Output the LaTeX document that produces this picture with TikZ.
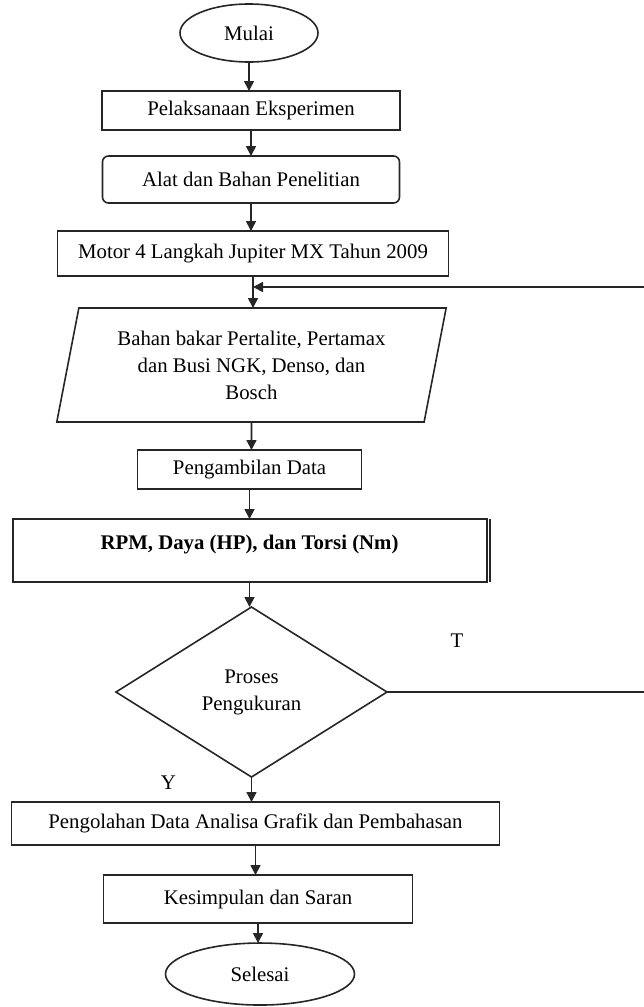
\documentclass[tikz,border=0pt]{standalone}
\usepackage{fontspec}
\setmainfont{Liberation Serif}
\usepackage{tikz}
\usetikzlibrary{shapes.geometric, arrows.meta, positioning, calc}

\begin{document}
\begin{tikzpicture}[
  font=\fontsize{10.4}{13.5}\selectfont,
  node distance=14pt and 10pt,
  box/.style={rectangle, draw=black!85, line width=0.8pt, align=center,
              inner sep=2pt, outer sep=0pt},
  term/.style={ellipse, draw=black!85, line width=0.8pt, inner sep=0pt,
               outer sep=0pt},
  io/.style={trapezium, trapezium left angle=76, trapezium right angle=104,
             trapezium stretches=true, draw=black!85, line width=0.8pt,
             align=center, inner sep=0pt, outer sep=0pt},
  decide/.style={diamond, draw=black!85, line width=0.8pt, align=center,
                 inner sep=0pt, outer sep=0pt},
  lbl/.style={inner sep=0pt},
  arrow/.style={-{Triangle[length=5pt, width=5pt]}, black!85, line width=0.8pt}
]
\useasboundingbox (0,0) rectangle (321.5pt,-503.5pt);

% Start
\node[term, minimum width=69pt, minimum height=29pt] (mulai) at (124.5pt,-16.5pt) {Mulai};

% Preparation
\node[box, minimum width=149pt, minimum height=19.5pt,
      below=14.5pt of mulai, xshift=1pt] (pelaksanaan) {Pelaksanaan Eksperimen};
\node[box, rounded corners=3pt, minimum width=148.5pt, minimum height=23.5pt,
      below=13pt of pelaksanaan] (alat) {Alat dan Bahan Penelitian};
\node[box, minimum width=195.5pt, minimum height=22.5pt,
      below=14pt of alat, xshift=1pt] (motor) {Motor 4 Langkah Jupiter MX Tahun 2009};

% Input
\node[io, minimum width=195pt, minimum height=57pt,
      below=16pt of motor, xshift=-0.75pt] (bahan)
      {Bahan bakar Pertalite, Pertamax\\dan Busi NGK, Denso, dan\\Bosch};

% Data
\node[box, minimum width=112pt, minimum height=19.5pt,
      below=14pt of bahan, xshift=-1pt] (ambil) {Pengambilan Data};
\node[box, line width=1pt, minimum width=237pt, minimum height=31.5pt, text depth=8pt,
      below=15pt of ambil] (rpm) {\textbf{RPM, Daya (HP), dan Torsi (Nm)}};
\draw[line width=0.8pt, black!85] ([xshift=1.6pt]rpm.north east) -- ([xshift=1.6pt]rpm.south east);

% Decision
\node[decide, minimum width=135.5pt, minimum height=85pt,
      below=12.5pt of rpm, xshift=1pt] (ukur) {Proses\\Pengukuran};
\node[lbl] (tlab) at ([xshift=35pt, yshift=25.5pt]ukur.east) {T};
\node[lbl] (ylab) at ([xshift=-41.5pt, yshift=-3pt]ukur.south) {Y};

% Results
\node[box, minimum width=244pt, minimum height=21.5pt,
      below=12.5pt of ukur, xshift=2pt] (olah) {Pengolahan Data Analisa Grafik dan Pembahasan};
\node[box, minimum width=154.5pt, minimum height=24pt,
      below=15pt of olah, xshift=1.25pt] (simpul) {Kesimpulan dan Saran};

% End
\node[term, minimum width=94.5pt, minimum height=31pt,
      below=10pt of simpul, xshift=1pt] (selesai) {Selesai};

% Loop points
\path (motor.south) ++(0,-5.5pt) coordinate (join);
\coordinate (edge) at (324pt,0);

% Arrows
\draw[arrow] (mulai) -- (mulai |- pelaksanaan.north);
\draw[arrow] (pelaksanaan) -- (pelaksanaan |- alat.north);
\draw[arrow] (alat) -- (alat |- motor.north);
\draw[arrow] (motor) -- (motor |- bahan.north);
\draw[arrow] (bahan) -- (bahan |- ambil.north);
\draw[arrow] (ambil) -- (ambil |- rpm.north);
\draw[arrow] (rpm) -- (rpm |- ukur.north);
\draw[arrow] (ukur) -- (ukur |- olah.north);
\draw[arrow] (olah) -- (olah |- simpul.north);
\draw[arrow] (simpul) -- (simpul |- selesai.north);
\draw[arrow] (ukur.east) -- (ukur.east -| edge) |- (join);

\end{tikzpicture}
\end{document}
